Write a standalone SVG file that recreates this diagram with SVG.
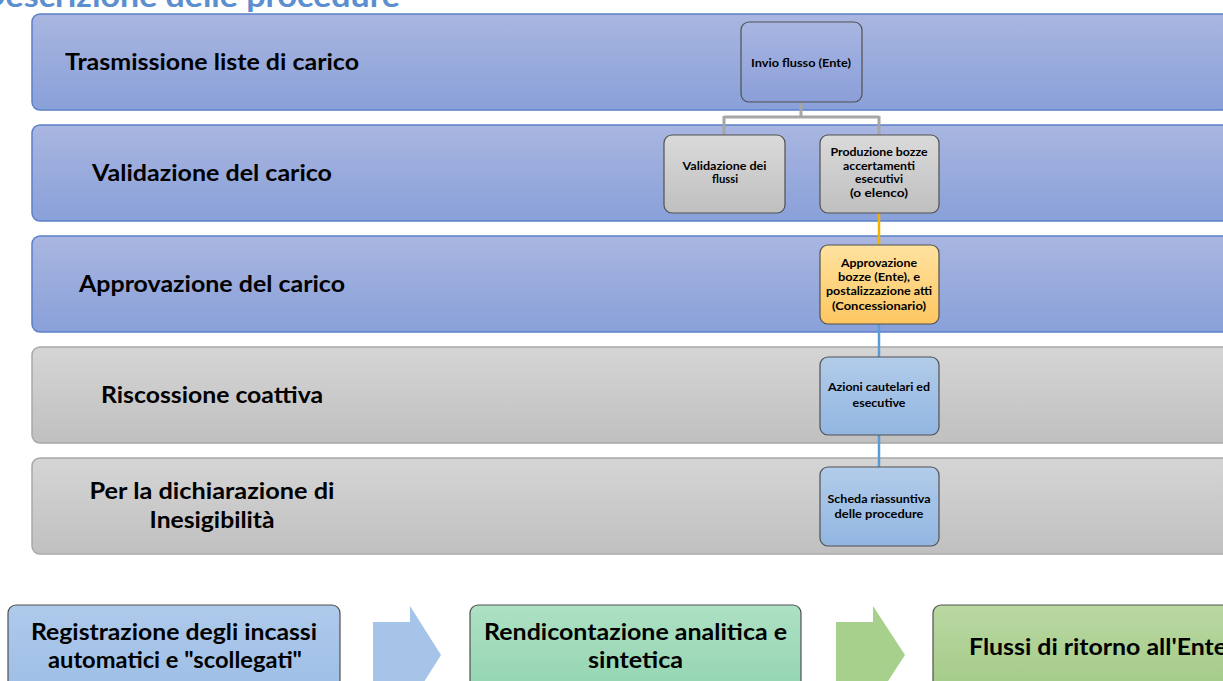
<svg xmlns="http://www.w3.org/2000/svg" width="1223" height="681" viewBox="0 0 1223 681">
<defs>
<linearGradient id="gLaneBlue" x1="0" y1="0" x2="0" y2="1"><stop offset="0" stop-color="#a9b6e0"/><stop offset="1" stop-color="#89a0d9"/></linearGradient>
<linearGradient id="gLaneGray" x1="0" y1="0" x2="0" y2="1"><stop offset="0" stop-color="#d5d5d5"/><stop offset="1" stop-color="#c0c0c0"/></linearGradient>
<linearGradient id="gNodeBlue" x1="0" y1="0" x2="0" y2="1"><stop offset="0" stop-color="#a8b6e2"/><stop offset="1" stop-color="#8b9ed8"/></linearGradient>
<linearGradient id="gNodeGray" x1="0" y1="0" x2="0" y2="1"><stop offset="0" stop-color="#dadada"/><stop offset="1" stop-color="#bfbfbf"/></linearGradient>
<linearGradient id="gNodeOrange" x1="0" y1="0" x2="0" y2="1"><stop offset="0" stop-color="#ffe2a0"/><stop offset="1" stop-color="#fdc660"/></linearGradient>
<linearGradient id="gNodeLBlue" x1="0" y1="0" x2="0" y2="1"><stop offset="0" stop-color="#b2ccea"/><stop offset="1" stop-color="#92b6e1"/></linearGradient>
<linearGradient id="gBotBlue" x1="0" y1="0" x2="0" y2="1"><stop offset="0" stop-color="#aecaeb"/><stop offset="1" stop-color="#9cbce5"/></linearGradient>
<linearGradient id="gBotTeal" x1="0" y1="0" x2="0" y2="1"><stop offset="0" stop-color="#aee0c4"/><stop offset="1" stop-color="#8fd3ae"/></linearGradient>
<linearGradient id="gBotGreen" x1="0" y1="0" x2="0" y2="1"><stop offset="0" stop-color="#b9d8a2"/><stop offset="1" stop-color="#a0c883"/></linearGradient>
</defs>
<style>
.laneB{fill:url(#gLaneBlue);stroke:#5b80c9;stroke-width:1.5}
.laneG{fill:url(#gLaneGray);stroke:#a8a8a8;stroke-width:1.5}
.node{stroke:#505050;stroke-width:1.2}
text{font-family:Lato,"Liberation Sans",sans-serif;font-weight:bold;fill:#000;text-anchor:middle}
.lbl{font-size:22px}
.sm{font-size:11.5px}
.bot{font-size:22px}
.title{font-size:30px;fill:#5b8fd0;text-anchor:start}
</style>
<rect width="1223" height="681" fill="#ffffff"/>
<text class="title" x="-20" y="7" textLength="420" lengthAdjust="spacingAndGlyphs">Descrizione delle procedure</text>

<g id="lane1"><rect class="laneB" x="32" y="14" width="1220" height="96" rx="8"/><text class="lbl" x="212" y="70" textLength="294" lengthAdjust="spacingAndGlyphs">Trasmissione liste di carico</text></g>
<g id="lane2"><rect class="laneB" x="32" y="125" width="1220" height="96" rx="8"/><text class="lbl" x="212" y="181" textLength="240" lengthAdjust="spacingAndGlyphs">Validazione del carico</text></g>
<g id="lane3"><rect class="laneB" x="32" y="236" width="1220" height="96" rx="8"/><text class="lbl" x="212" y="292" textLength="266" lengthAdjust="spacingAndGlyphs">Approvazione del carico</text></g>
<g id="lane4"><rect class="laneG" x="32" y="347" width="1220" height="96" rx="8"/><text class="lbl" x="212" y="403" textLength="222" lengthAdjust="spacingAndGlyphs">Riscossione coattiva</text></g>
<g id="lane5"><rect class="laneG" x="32" y="458" width="1220" height="96" rx="8"/><text class="lbl" x="212" y="499" textLength="245" lengthAdjust="spacingAndGlyphs">Per la dichiarazione di</text><text class="lbl" x="212" y="528" textLength="125" lengthAdjust="spacingAndGlyphs">Inesigibilità</text></g>

<g id="connectors" fill="none">
<path d="M801 102 V117 M724 117 H879 M724 116 V135 M879 116 V135" stroke="#a6a6a6" stroke-width="3"/>
<path d="M879 213 V245" stroke="#f2b300" stroke-width="2.5"/>
<path d="M879 324 V357 M879 435 V467" stroke="#5b9bd5" stroke-width="2.5"/>
</g>

<g id="n-invio"><rect class="node" x="741" y="22" width="121" height="80" rx="8" fill="url(#gNodeBlue)"/><text class="sm" x="801" y="67" textLength="100" lengthAdjust="spacingAndGlyphs">Invio flusso (Ente)</text></g>
<g id="n-valid"><rect class="node" x="664" y="135" width="121" height="78" rx="8" fill="url(#gNodeGray)"/><text class="sm" x="724.5" y="170" textLength="84" lengthAdjust="spacingAndGlyphs">Validazione dei</text><text class="sm" x="725" y="183" textLength="26" lengthAdjust="spacingAndGlyphs">flussi</text></g>
<g id="n-prod"><rect class="node" x="820" y="135" width="119" height="78" rx="8" fill="url(#gNodeGray)"/><text class="sm" x="879" y="156" textLength="97" lengthAdjust="spacingAndGlyphs">Produzione bozze</text><text class="sm" x="879" y="170" textLength="72" lengthAdjust="spacingAndGlyphs">accertamenti</text><text class="sm" x="879" y="183" textLength="48" lengthAdjust="spacingAndGlyphs">esecutivi</text><text class="sm" x="879" y="197" textLength="58" lengthAdjust="spacingAndGlyphs">(o elenco)</text></g>
<g id="n-appr"><rect class="node" x="820" y="245" width="119" height="79" rx="8" fill="url(#gNodeOrange)"/><text class="sm" x="879" y="267" textLength="76" lengthAdjust="spacingAndGlyphs">Approvazione</text><text class="sm" x="879" y="281" textLength="82" lengthAdjust="spacingAndGlyphs">bozze (Ente), e</text><text class="sm" x="879" y="295" textLength="106" lengthAdjust="spacingAndGlyphs">postalizzazione atti</text><text class="sm" x="879" y="310" textLength="94" lengthAdjust="spacingAndGlyphs">(Concessionario)</text></g>
<g id="n-azioni"><rect class="node" x="820" y="357" width="119" height="78" rx="8" fill="url(#gNodeLBlue)"/><text class="sm" x="879" y="391" textLength="102" lengthAdjust="spacingAndGlyphs">Azioni cautelari ed</text><text class="sm" x="879" y="407" textLength="53" lengthAdjust="spacingAndGlyphs">esecutive</text></g>
<g id="n-scheda"><rect class="node" x="820" y="467" width="119" height="79" rx="8" fill="url(#gNodeLBlue)"/><text class="sm" x="879" y="503" textLength="103" lengthAdjust="spacingAndGlyphs">Scheda riassuntiva</text><text class="sm" x="879" y="518" textLength="89" lengthAdjust="spacingAndGlyphs">delle procedure</text></g>

<g id="b-reg"><rect class="node" x="8" y="605" width="332" height="100" rx="8" fill="url(#gBotBlue)"/><text class="bot" x="174" y="640" textLength="286" lengthAdjust="spacingAndGlyphs">Registrazione degli incassi</text><text class="bot" x="175" y="668" textLength="254" lengthAdjust="spacingAndGlyphs">automatici e "scollegati"</text></g>
<g id="arrow1"><path d="M373 622 H410 V606 L441 655 L410 704 V688 H373 Z" fill="#a6c3e8"/></g>
<g id="b-rend"><rect class="node" x="470" y="605" width="331" height="100" rx="8" fill="url(#gBotTeal)"/><text class="bot" x="635.5" y="640" textLength="303" lengthAdjust="spacingAndGlyphs">Rendicontazione analitica e</text><text class="bot" x="635.5" y="668" textLength="95" lengthAdjust="spacingAndGlyphs">sintetica</text></g>
<g id="arrow2"><path d="M836 622 H873 V606 L905 655 L873 704 V688 H836 Z" fill="#a8d08d"/></g>
<g id="b-flussi"><rect class="node" x="933" y="605" width="331" height="100" rx="8" fill="url(#gBotGreen)"/><text class="bot" x="1098" y="655" textLength="258" lengthAdjust="spacingAndGlyphs">Flussi di ritorno all'Ente</text></g>
</svg>
